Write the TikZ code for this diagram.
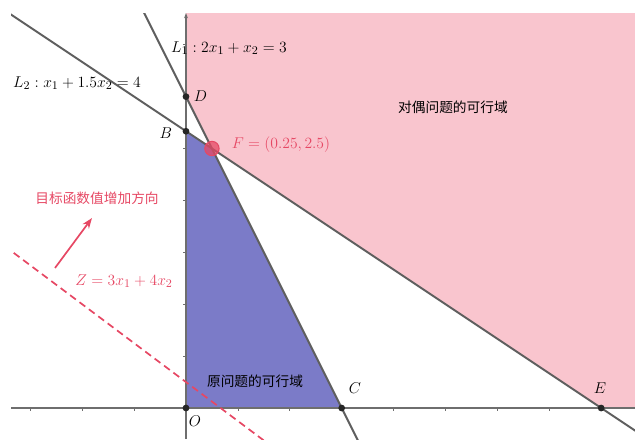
\documentclass[tikz,border=0pt]{standalone}
\usepackage{fontspec}
\newfontfamily\cjk{Noto Sans CJK SC}
\usetikzlibrary{arrows.meta}
\definecolor{pinkfill}{RGB}{249,197,206}
\definecolor{bluefill}{RGB}{123,123,200}
\definecolor{linegray}{RGB}{95,95,95}
\definecolor{axisgray}{RGB}{110,110,110}
\definecolor{redc}{RGB}{230,72,100}
\tikzset{
  bigline/.style={linegray, line width=1.5pt},
  axisline/.style={axisgray, line width=0.8pt},
  tickmark/.style={axisgray, line width=0.6pt},
  ptdot/.style={fill=black!85},
  mlabel/.style={font=\fontsize{12.7}{15}\selectfont, inner sep=1pt},
  clabel/.style={font=\cjk\fontsize{10.5}{12}\selectfont, inner sep=1pt},
}
\begin{document}
\begin{tikzpicture}[x=2.796cm,y=2.796cm]
\useasboundingbox (-1.792,-0.299) rectangle (4.326,3.931);
\coordinate (O) at (0,0);
\coordinate (B) at (0,8/3);
\coordinate (D) at (0,3);
\coordinate (F) at (0.25,2.5);
\coordinate (C) at (1.5,0);
\coordinate (E) at (4,0);
\begin{scope}
\clip (-1.686,-0.299) rectangle (4.326,3.805);
\fill[pinkfill] (0,3.805) -- (D) -- (F) -- (E) -- (4.4,0) -- (4.4,3.805) -- cycle;
\fill[bluefill] (O) -- (B) -- (F) -- (C) -- cycle;
% axes
\draw[axisline] (-1.686,0) -- (4.326,0);
\draw[axisline, -{Stealth[length=4pt,width=3pt]}] (0,-0.299) -- (0,3.805);
\foreach \t in {-1.5,-1,-0.5,0.5,1,1.5,2,2.5,3,3.5,4}
  \draw[tickmark] (\t,0) -- (\t,-0.03);
\foreach \t in {0.5,1,1.5,2,2.5,3,3.5}
  \draw[tickmark] (0,\t) -- (-0.03,\t);
% lines
\coordinate (L1a) at (-0.45,3.9);
\coordinate (L1b) at (1.7,-0.4);
\coordinate (L2a) at (-1.9,3.9333);
\coordinate (L2b) at (4.6,-0.4);
\draw[bigline] (L1a) -- (L1b);
\draw[bigline] (L2a) -- (L2b);
% objective line
\coordinate (Za) at (-1.75,1.5625);
\coordinate (Zb) at (0.8,-0.35);
\draw[redc, line width=1.3pt, dash pattern=on 5.5pt off 3.5pt] (Za) -- (Zb);
\end{scope}
% points
\foreach \p in {O,B,D,C,E} \fill[ptdot] (\p) circle (2.6pt);
\draw[redc, line width=0.8pt, fill=redc, fill opacity=0.75] (F) circle (5.5pt);
% arrow
\coordinate (A1) at (-1.262,1.349);
\coordinate (A2) at (-0.906,1.830);
\draw[redc, line width=1.3pt, -{Stealth[length=8pt,width=6pt]}] (A1) -- (A2);
% labels
\node[mlabel] (l1) at (0.414,3.468) {$L_1: 2x_1+x_2=3$};
\node[mlabel] (l2) at (-1.050,3.131) {$L_2: x_1+1.5x_2=4$};
\node[mlabel] (nD) at (0.14,3.006) {$D$};
\node[mlabel] (nB) at (-0.193,2.649) {$B$};
\node[mlabel, text=redc] (nF) at (0.915,2.534) {$F=(0.25,2.5)$};
\node[clabel] (dual) at (2.572,2.900) {对偶问题的可行域};
\node[clabel, text=redc] (dir) at (-0.857,2.023) {目标函数值增加方向};
\node[mlabel, text=redc] (nZ) at (-0.597,1.224) {$Z=3x_1+4x_2$};
\node[clabel] (prim) at (0.665,0.260) {原问题的可行域};
\node[mlabel] (nC) at (1.628,0.193) {$C$};
\node[mlabel] (nE) at (3.988,0.193) {$E$};
\node[mlabel] (nO) at (0.087,-0.125) {$O$};
\end{tikzpicture}
\end{document}
